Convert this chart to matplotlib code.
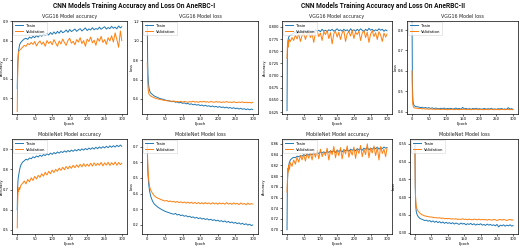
import matplotlib
matplotlib.use("Agg")
import matplotlib.pyplot as plt

W, H = 520, 248

epochs = [0, 1, 2, 3, 4, 5, 7, 10] + list(range(15, 296, 5)) + [299]

vgg_acc1_train = [0.55, 0.65, 0.70, 0.73, 0.75, 0.76, 0.78, 0.79,
    0.800, 0.808, 0.812, 0.806, 0.818, 0.812, 0.822, 0.815, 0.826, 0.818,
    0.830, 0.822, 0.835, 0.826, 0.838, 0.829, 0.842, 0.832, 0.845, 0.835,
    0.848, 0.838, 0.852, 0.841, 0.846, 0.855, 0.843, 0.858, 0.847, 0.853,
    0.860, 0.848, 0.856, 0.862, 0.850, 0.858, 0.866, 0.852, 0.861, 0.855,
    0.867, 0.856, 0.863, 0.858, 0.870, 0.859, 0.866, 0.872, 0.860, 0.868,
    0.862, 0.874, 0.864, 0.870, 0.861, 0.876, 0.866, 0.872]
vgg_acc1_val = [0.43, 0.60, 0.68, 0.72, 0.74, 0.745, 0.75, 0.755,
    0.765, 0.775, 0.770, 0.785, 0.778, 0.790, 0.780, 0.795, 0.772, 0.788,
    0.798, 0.780, 0.792, 0.770, 0.800, 0.785, 0.795, 0.778, 0.805, 0.788,
    0.770, 0.798, 0.782, 0.808, 0.790, 0.775, 0.800, 0.812, 0.786, 0.796,
    0.778, 0.805, 0.792, 0.815, 0.784, 0.800, 0.770, 0.808, 0.795, 0.818,
    0.788, 0.802, 0.775, 0.812, 0.796, 0.822, 0.790, 0.805, 0.780, 0.815,
    0.798, 0.825, 0.792, 0.840, 0.805, 0.765, 0.850, 0.800]

vgg_loss1_train = [1.17, 0.80, 0.65, 0.58, 0.54, 0.51, 0.48, 0.46,
    0.445, 0.430, 0.422, 0.415, 0.405, 0.400, 0.398, 0.390, 0.385, 0.382,
    0.378, 0.372, 0.376, 0.366, 0.370, 0.360, 0.365, 0.355, 0.360, 0.350,
    0.354, 0.345, 0.350, 0.340, 0.346, 0.336, 0.342, 0.332, 0.338, 0.328,
    0.335, 0.325, 0.330, 0.320, 0.328, 0.318, 0.324, 0.314, 0.322, 0.312,
    0.318, 0.308, 0.316, 0.305, 0.312, 0.302, 0.310, 0.300, 0.306, 0.296,
    0.304, 0.294, 0.300, 0.290, 0.298, 0.288, 0.296, 0.292]
vgg_loss1_val = [0.77, 0.60, 0.52, 0.48, 0.46, 0.45, 0.44, 0.43,
    0.420, 0.412, 0.405, 0.400, 0.396, 0.392, 0.388, 0.385, 0.382, 0.380,
    0.378, 0.376, 0.379, 0.372, 0.375, 0.370, 0.376, 0.368, 0.374, 0.370,
    0.366, 0.373, 0.369, 0.377, 0.368, 0.372, 0.366, 0.374, 0.369, 0.376,
    0.368, 0.372, 0.365, 0.374, 0.369, 0.366, 0.373, 0.367, 0.371, 0.364,
    0.370, 0.366, 0.373, 0.365, 0.369, 0.363, 0.371, 0.366, 0.362, 0.369,
    0.364, 0.370, 0.362, 0.367, 0.361, 0.366, 0.359, 0.364]

vgg_acc2_train = [0.628, 0.740, 0.762, 0.772, 0.776, 0.779, 0.781, 0.783,
    0.785, 0.787, 0.789, 0.786, 0.790, 0.788, 0.791, 0.789, 0.792, 0.790,
    0.793, 0.790, 0.792, 0.789, 0.794, 0.791, 0.793, 0.790, 0.795, 0.791,
    0.793, 0.790, 0.794, 0.792, 0.795, 0.791, 0.793, 0.796, 0.792, 0.794,
    0.791, 0.795, 0.792, 0.794, 0.790, 0.796, 0.792, 0.794, 0.791, 0.795,
    0.792, 0.796, 0.793, 0.790, 0.795, 0.792, 0.797, 0.793, 0.795, 0.791,
    0.794, 0.792, 0.796, 0.793, 0.795, 0.791, 0.794, 0.792]
vgg_acc2_val = [0.735, 0.760, 0.768, 0.758, 0.772, 0.766, 0.775, 0.770,
    0.778, 0.772, 0.783, 0.775, 0.786, 0.770, 0.782, 0.788, 0.774, 0.785,
    0.790, 0.778, 0.786, 0.768, 0.788, 0.792, 0.780, 0.787, 0.772, 0.790,
    0.784, 0.793, 0.776, 0.788, 0.765, 0.786, 0.791, 0.779, 0.789, 0.774,
    0.788, 0.792, 0.770, 0.786, 0.790, 0.781, 0.793, 0.776, 0.789, 0.784,
    0.791, 0.772, 0.787, 0.793, 0.778, 0.789, 0.768, 0.785, 0.792, 0.780,
    0.788, 0.774, 0.790, 0.783, 0.770, 0.787, 0.779, 0.785]

vgg_loss2_train = [0.840, 0.550, 0.470, 0.450, 0.440, 0.435, 0.430, 0.427,
    0.425, 0.424, 0.421, 0.423, 0.419, 0.422, 0.418, 0.421, 0.417, 0.420,
    0.416, 0.419, 0.417, 0.415, 0.418, 0.416, 0.419, 0.414, 0.417, 0.415,
    0.418, 0.414, 0.416, 0.419, 0.415, 0.417, 0.413, 0.422, 0.415, 0.417,
    0.414, 0.416, 0.413, 0.417, 0.415, 0.418, 0.414, 0.416, 0.413, 0.415,
    0.417, 0.413, 0.416, 0.414, 0.418, 0.413, 0.415, 0.412, 0.416, 0.414,
    0.417, 0.413, 0.415, 0.412, 0.421, 0.414, 0.416, 0.413]
vgg_loss2_val = [0.600, 0.470, 0.440, 0.430, 0.425, 0.422, 0.420, 0.419,
    0.418, 0.416, 0.417, 0.415, 0.416, 0.414, 0.415, 0.413, 0.415, 0.413,
    0.414, 0.412, 0.414, 0.413, 0.412, 0.414, 0.412, 0.413, 0.411, 0.413,
    0.412, 0.414, 0.411, 0.413, 0.412, 0.411, 0.413, 0.412, 0.414, 0.411,
    0.413, 0.412, 0.411, 0.413, 0.412, 0.414, 0.411, 0.412, 0.413, 0.411,
    0.412, 0.413, 0.411, 0.412, 0.414, 0.412, 0.411, 0.413, 0.412, 0.411,
    0.413, 0.412, 0.411, 0.413, 0.412, 0.411, 0.412, 0.411]

mob_acc1_train = [0.60, 0.70, 0.74, 0.76, 0.77, 0.78, 0.80, 0.82,
    0.835, 0.842, 0.850, 0.846, 0.856, 0.852, 0.862, 0.857, 0.866, 0.861,
    0.870, 0.864, 0.873, 0.868, 0.877, 0.871, 0.880, 0.874, 0.883, 0.877,
    0.886, 0.880, 0.888, 0.883, 0.891, 0.885, 0.893, 0.887, 0.895, 0.889,
    0.897, 0.891, 0.899, 0.893, 0.901, 0.895, 0.903, 0.897, 0.905, 0.899,
    0.907, 0.900, 0.909, 0.902, 0.911, 0.904, 0.912, 0.906, 0.914, 0.907,
    0.916, 0.909, 0.917, 0.910, 0.919, 0.912, 0.920, 0.914]
mob_acc1_val = [0.51, 0.62, 0.68, 0.70, 0.69, 0.71, 0.70, 0.72,
    0.730, 0.742, 0.728, 0.750, 0.738, 0.758, 0.745, 0.765, 0.752, 0.770,
    0.760, 0.778, 0.766, 0.785, 0.772, 0.790, 0.778, 0.796, 0.784, 0.800,
    0.790, 0.806, 0.795, 0.810, 0.798, 0.814, 0.802, 0.816, 0.805, 0.820,
    0.808, 0.822, 0.810, 0.825, 0.812, 0.828, 0.814, 0.826, 0.815, 0.830,
    0.816, 0.832, 0.818, 0.830, 0.820, 0.834, 0.817, 0.832, 0.821, 0.835,
    0.819, 0.833, 0.822, 0.836, 0.820, 0.834, 0.823, 0.830]

mob_loss1_train = [0.70, 0.58, 0.52, 0.49, 0.46, 0.44, 0.41, 0.38,
    0.350, 0.332, 0.322, 0.312, 0.305, 0.298, 0.292, 0.286, 0.282, 0.278,
    0.274, 0.270, 0.267, 0.272, 0.262, 0.266, 0.258, 0.262, 0.254, 0.258,
    0.250, 0.254, 0.246, 0.250, 0.242, 0.247, 0.239, 0.244, 0.236, 0.240,
    0.233, 0.238, 0.230, 0.235, 0.227, 0.232, 0.224, 0.229, 0.221, 0.226,
    0.218, 0.224, 0.215, 0.221, 0.212, 0.218, 0.209, 0.215, 0.206, 0.212,
    0.203, 0.209, 0.200, 0.206, 0.197, 0.203, 0.194, 0.198]
mob_loss1_val = [0.72, 0.62, 0.56, 0.52, 0.49, 0.47, 0.44, 0.42,
    0.400, 0.385, 0.376, 0.370, 0.365, 0.360, 0.356, 0.352, 0.355, 0.348,
    0.352, 0.346, 0.350, 0.343, 0.349, 0.341, 0.347, 0.340, 0.346, 0.338,
    0.345, 0.337, 0.344, 0.336, 0.343, 0.335, 0.342, 0.334, 0.341, 0.333,
    0.342, 0.334, 0.340, 0.332, 0.341, 0.333, 0.339, 0.331, 0.340, 0.333,
    0.339, 0.331, 0.341, 0.332, 0.338, 0.330, 0.340, 0.332, 0.337, 0.329,
    0.339, 0.331, 0.336, 0.328, 0.338, 0.330, 0.335, 0.332]

mob_acc2_train = [0.700, 0.780, 0.800, 0.810, 0.815, 0.820, 0.825, 0.830,
    0.833, 0.835, 0.834, 0.837, 0.836, 0.838, 0.837, 0.840, 0.838, 0.841,
    0.839, 0.842, 0.840, 0.843, 0.841, 0.844, 0.842, 0.845, 0.843, 0.845,
    0.843, 0.846, 0.844, 0.847, 0.845, 0.847, 0.844, 0.848, 0.846, 0.848,
    0.845, 0.849, 0.847, 0.849, 0.846, 0.850, 0.848, 0.850, 0.847, 0.851,
    0.849, 0.851, 0.848, 0.852, 0.850, 0.853, 0.849, 0.852, 0.850, 0.853,
    0.851, 0.854, 0.850, 0.853, 0.851, 0.854, 0.852, 0.853]
mob_acc2_val = [0.770, 0.790, 0.800, 0.815, 0.808, 0.820, 0.812, 0.825,
    0.818, 0.830, 0.822, 0.835, 0.826, 0.838, 0.830, 0.840, 0.828, 0.842,
    0.833, 0.843, 0.830, 0.846, 0.835, 0.848, 0.832, 0.850, 0.836, 0.845,
    0.838, 0.852, 0.830, 0.847, 0.840, 0.855, 0.834, 0.849, 0.838, 0.853,
    0.832, 0.850, 0.841, 0.856, 0.835, 0.848, 0.839, 0.854, 0.833, 0.851,
    0.842, 0.857, 0.836, 0.850, 0.840, 0.860, 0.834, 0.852, 0.843, 0.856,
    0.838, 0.853, 0.830, 0.855, 0.842, 0.850, 0.836, 0.852]

mob_loss2_train = [0.550, 0.430, 0.390, 0.370, 0.360, 0.355, 0.350, 0.345,
    0.340, 0.338, 0.336, 0.334, 0.335, 0.332, 0.334, 0.330, 0.333, 0.329,
    0.332, 0.328, 0.331, 0.327, 0.330, 0.326, 0.329, 0.326, 0.328, 0.325,
    0.328, 0.324, 0.327, 0.325, 0.323, 0.327, 0.324, 0.326, 0.322, 0.325,
    0.323, 0.326, 0.322, 0.325, 0.321, 0.324, 0.322, 0.325, 0.321, 0.323,
    0.320, 0.324, 0.321, 0.323, 0.320, 0.322, 0.319, 0.323, 0.316, 0.321,
    0.319, 0.322, 0.318, 0.321, 0.319, 0.322, 0.318, 0.320]
mob_loss2_val = [0.530, 0.440, 0.400, 0.385, 0.375, 0.370, 0.365, 0.360,
    0.355, 0.351, 0.349, 0.347, 0.346, 0.345, 0.344, 0.344, 0.343, 0.342,
    0.342, 0.341, 0.342, 0.340, 0.341, 0.339, 0.340, 0.339, 0.340, 0.338,
    0.339, 0.338, 0.339, 0.337, 0.338, 0.337, 0.339, 0.337, 0.338, 0.336,
    0.338, 0.337, 0.336, 0.338, 0.337, 0.336, 0.338, 0.336, 0.337, 0.336,
    0.337, 0.335, 0.337, 0.336, 0.335, 0.337, 0.336, 0.334, 0.336, 0.337,
    0.335, 0.337, 0.336, 0.334, 0.336, 0.337, 0.335, 0.336]

x_ticks = [0, 50, 100, 150, 200, 250, 300]
legend_labels = ["Train", "Validation"]
main_titles = ["CNN Models Training Accuracy and Loss On AneRBC-I",
               "CNN Models Training Accuracy and Loss On AneRBC-II"]

panels = [
    # (left, right, top, bottom) px, ylabel x px, title, ylabel, train, val, ylim, yticks
    ((12, 127, 21, 114), 3.5, "VGG16 Model accuracy", "Accuracy", vgg_acc1_train, vgg_acc1_val,
     (0.417, 0.902), [0.5, 0.6, 0.7, 0.8, 0.9]),
    ((142, 258, 21, 114), 133.5, "VGG16 Model loss", "Loss", vgg_loss1_train, vgg_loss1_val,
     (0.245, 1.205), [0.4, 0.6, 0.8, 1.0, 1.2]),
    ((282, 392, 21, 114), 267, "VGG16 Model accuracy", "Accuracy", vgg_acc2_train, vgg_acc2_val,
     (0.621, 0.812), [0.625, 0.650, 0.675, 0.700, 0.725, 0.750, 0.775, 0.800]),
    ((407, 518, 21, 114), 397.5, "VGG16 Model loss", "Loss", vgg_loss2_train, vgg_loss2_val,
     (0.39, 0.844), [0.4, 0.5, 0.6, 0.7, 0.8]),
    ((12, 127, 139, 234), 3.5, "MobileNet Model accuracy", "Accuracy", mob_acc1_train, mob_acc1_val,
     (0.48, 0.95), [0.5, 0.6, 0.7, 0.8, 0.9]),
    ((142, 258, 139, 234), 133.5, "MobileNet Model loss", "Loss", mob_loss1_train, mob_loss1_val,
     (0.14, 0.75), [0.2, 0.3, 0.4, 0.5, 0.6, 0.7]),
    ((282, 392, 139, 234), 266, "MobileNet Model accuracy", "Accuracy", mob_acc2_train, mob_acc2_val,
     (0.692, 0.869), [0.70, 0.72, 0.74, 0.76, 0.78, 0.80, 0.82, 0.84, 0.86]),
    ((410, 518, 139, 234), 395.5, "MobileNet Model loss", "Loss", mob_loss2_train, mob_loss2_val,
     (0.296, 0.564), [0.30, 0.35, 0.40, 0.45, 0.50, 0.55]),
]

fig = plt.figure(figsize=(W / 100, H / 100), dpi=100)
fig.patch.set_facecolor("white")

for (l, r, t, b), ylx, title, ylab, tr, va, ylim, yt in panels:
    ax = fig.add_axes([l / W, 1 - b / H, (r - l) / W, (b - t) / H])
    ax.plot(epochs, tr, color="#1f77b4", lw=0.7, label=legend_labels[0])
    ax.plot(epochs, va, color="#ff7f0e", lw=0.7, label=legend_labels[1])
    ax.set_xlim(-15, 314)
    ax.set_ylim(*ylim)
    ax.set_xticks(x_ticks)
    ax.set_yticks(yt)
    ax.set_title(title, fontsize=3.4, pad=2, color="#222222")
    ax.set_ylabel(ylab, fontsize=2.6)
    ax.yaxis.set_label_coords((ylx - l) / (r - l), 0.5)
    ax.set_xlabel("Epoch", fontsize=2.6, labelpad=1)
    ax.tick_params(labelsize=2.6, length=1.2, width=0.4, pad=1)
    for s in ax.spines.values():
        s.set_linewidth(0.5)
    leg = ax.legend(loc="upper left", fontsize=2.8, frameon=True, borderpad=0.4,
                    handlelength=2.2, labelspacing=0.5, borderaxespad=0.3)
    leg.get_frame().set_linewidth(0.4)

fig.text(134 / W, 1 - 5.5 / H, main_titles[0], ha="center", va="center",
         fontsize=4.8, fontweight="bold", color="#111111", family="Roboto")
fig.text(383 / W, 1 - 5.5 / H, main_titles[1], ha="center", va="center",
         fontsize=4.8, fontweight="bold", color="#111111", family="Roboto")

fig.savefig("out.png", dpi=100)
